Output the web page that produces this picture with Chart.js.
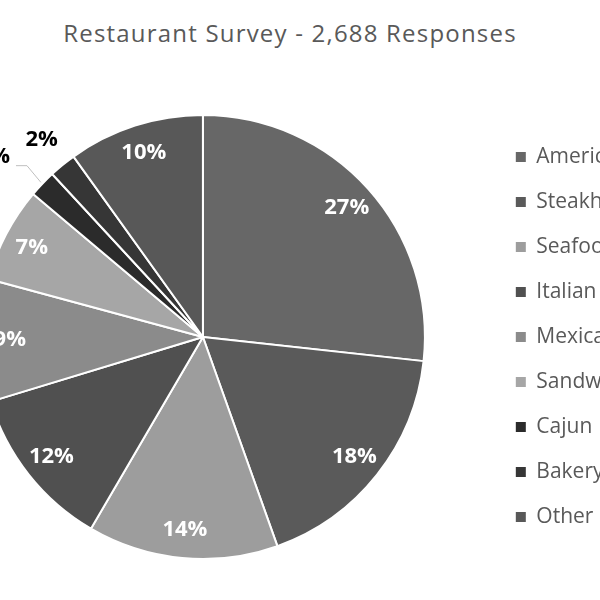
<!DOCTYPE html>
<html lang="en">
<head>
    <meta charset="UTF-8">
    <title>Restaurant Survey</title>
    <script src="https://cdn.jsdelivr.net/npm/chart.js"></script>
    <style>
        html, body { margin: 0; padding: 0; width: 600px; height: 600px; overflow: hidden; background: #fff; }
        #title {
            position: absolute; left: 0; top: 16px; width: 580px;
            text-align: center; font: 24px "Open Sans", sans-serif; color: #595959;
            letter-spacing: 1.2px; white-space: nowrap;
        }
        #wrap { position: absolute; left: -86px; top: 0; height: 600px; }
    </style>
</head>
<body>
    <div id="title">Restaurant Survey - 2,688 Responses</div>
    <div id="wrap"><canvas id="pieChart"></canvas></div>

    <script>
        // survey share per restaurant type (percent, as labelled)
        const categories = ['American', 'Steakhouse', 'Seafood', 'Italian', 'Mexican', 'Sandwich', 'Cajun', 'Bakery', 'Other'];
        const shares = [27, 18, 14, 12, 9, 7, 2, 2, 10];
        const sliceColors = ['#676767', '#5a5a5a', '#9d9d9d', '#505050', '#8b8b8b', '#a6a6a6', '#2b2b2b', '#363636', '#585858'];

        const legendFont = { family: 'Open Sans', size: 21 };

        // size the canvas so the legend lands where the original had it
        const meas = document.createElement('canvas').getContext('2d');
        meas.font = '21px "Open Sans"';
        const maxText = Math.max(...categories.map(c => meas.measureText(c).width));
        const wrap = document.getElementById('wrap');
        wrap.style.width = Math.round(632.5 + maxText) + 'px';

        // percentage labels: inside for big slices, outside for the thin ones
        const sliceLabels = {
            id: 'sliceLabels',
            afterDatasetsDraw(chart) {
                const ctx = chart.ctx;
                const meta = chart.getDatasetMeta(0);
                let smallCount = 0;
                ctx.save();
                ctx.font = 'bold 22px "Open Sans"';
                ctx.textAlign = 'center';
                ctx.textBaseline = 'middle';
                meta.data.forEach((arc, i) => {
                    const p = arc.getProps(['x', 'y', 'startAngle', 'endAngle', 'outerRadius'], true);
                    const mid = (p.startAngle + p.endAngle) / 2;
                    const text = shares[i] + '%';
                    if (shares[i] >= 5) {
                        const d = p.outerRadius * 0.87;
                        ctx.fillStyle = '#ffffff';
                        ctx.fillText(text, p.x + Math.cos(mid) * d, p.y + Math.sin(mid) * d);
                        return;
                    }
                    smallCount++;
                    ctx.fillStyle = '#000000';
                    if (smallCount === 1) {
                        // pushed out with a leader line
                        const a = mid - 0.05, d = p.outerRadius + 54;
                        const lx = p.x + Math.cos(a) * d, ly = p.y + Math.sin(a) * d;
                        ctx.fillText(text, lx, ly);
                        const ex = p.x + Math.cos(mid) * (p.outerRadius + 2);
                        const ey = p.y + Math.sin(mid) * (p.outerRadius + 2);
                        ctx.strokeStyle = '#bfbfbf';
                        ctx.lineWidth = 1;
                        ctx.beginPath();
                        ctx.moveTo(lx + 22, ly + 9);
                        ctx.lineTo(lx + 33, ly + 9);
                        ctx.lineTo(ex, ey);
                        ctx.stroke();
                    } else {
                        const d = p.outerRadius + 33;
                        ctx.fillText(text, p.x + Math.cos(mid) * d, p.y + Math.sin(mid) * d);
                    }
                });
                ctx.restore();
            }
        };

        const baseLabels = Chart.overrides.pie.plugins.legend.labels.generateLabels;

        new Chart(document.getElementById('pieChart'), {
            type: 'pie',
            data: {
                labels: categories,
                datasets: [{
                    data: shares,
                    backgroundColor: sliceColors,
                    borderColor: '#ffffff',
                    borderWidth: 2
                }]
            },
            options: {
                responsive: true,
                maintainAspectRatio: false,
                animation: false,
                layout: { padding: { top: 114, bottom: 40, left: 0, right: 0 } },
                plugins: {
                    title: { display: false },
                    tooltip: { enabled: false },
                    legend: {
                        position: 'right',
                        labels: {
                            font: legendFont,
                            color: '#595959',
                            boxWidth: 10,
                            boxHeight: 10,
                            padding: 24,
                            generateLabels(chart) {
                                return baseLabels(chart).map(l => Object.assign(l, { lineWidth: 0 }));
                            }
                        }
                    }
                }
            },
            plugins: [sliceLabels]
        });
    </script>
</body>
</html>
